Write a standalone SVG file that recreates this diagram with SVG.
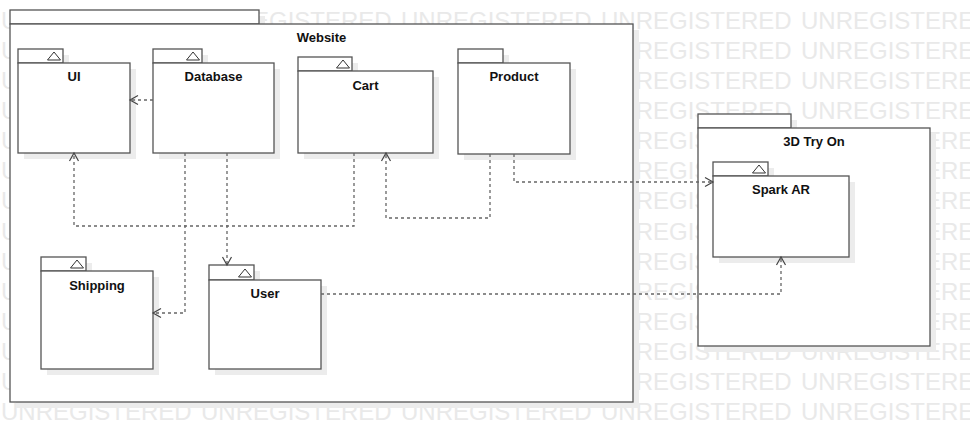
<svg xmlns="http://www.w3.org/2000/svg" xmlns:xlink="http://www.w3.org/1999/xlink" width="970" height="442" viewBox="0 0 970 442">
<style>
.wm{font-family:"Liberation Sans",Arial,sans-serif;font-size:24px;fill:#e9e9e9}
.box{fill:#ffffff;stroke:#555555;stroke-width:1.3}
.shadow{fill:#ececec;stroke:none}
.tri{fill:#ffffff;stroke:#333333;stroke-width:1}
.lbl{font-family:"Liberation Sans",Arial,sans-serif;font-size:13px;font-weight:bold;fill:#111111;text-anchor:middle}
.dep{fill:none;stroke:#666666;stroke-width:1.3;stroke-dasharray:3 3;marker-end:url(#arr)}
</style>
<defs>
<marker id="arr" viewBox="-10 -6 12 12" refX="0" refY="0" markerWidth="12" markerHeight="12" markerUnits="userSpaceOnUse" orient="auto">
<path d="M-8,-4.5 L0,0 L-8,4.5" fill="none" stroke="#444444" stroke-width="1.2"/>
</marker>
<g id="wmrow">
<text class="wm" x="1">UNREGISTERED</text>
<text class="wm" x="201">UNREGISTERED</text>
<text class="wm" x="401">UNREGISTERED</text>
<text class="wm" x="601">UNREGISTERED</text>
<text class="wm" x="801">UNREGISTERED</text>
</g>
</defs>
<rect width="970" height="442" fill="#ffffff"/>
<g id="watermark">
<use xlink:href="#wmrow" y="28.5"/>
<use xlink:href="#wmrow" y="58.6"/>
<use xlink:href="#wmrow" y="88.8"/>
<use xlink:href="#wmrow" y="118.9"/>
<use xlink:href="#wmrow" y="149.1"/>
<use xlink:href="#wmrow" y="179.2"/>
<use xlink:href="#wmrow" y="209.4"/>
<use xlink:href="#wmrow" y="239.5"/>
<use xlink:href="#wmrow" y="269.7"/>
<use xlink:href="#wmrow" y="299.8"/>
<use xlink:href="#wmrow" y="330.0"/>
<use xlink:href="#wmrow" y="360.1"/>
<use xlink:href="#wmrow" y="390.3"/>
<use xlink:href="#wmrow" y="420.4"/>
</g>

<g id="website">
<rect class="shadow" x="16" y="16" width="249" height="14"/>
<rect class="shadow" x="16" y="30" width="623" height="378"/>
<rect class="box" x="10" y="10" width="249" height="14"/>
<rect class="box" x="10" y="24" width="623" height="378"/>
<text class="lbl" x="321.5" y="42">Website</text>
</g>

<g id="try3d">
<rect class="shadow" x="704" y="120" width="93" height="14"/>
<rect class="shadow" x="704" y="134" width="232" height="218"/>
<rect class="box" x="698" y="114" width="93" height="14"/>
<rect class="box" x="698" y="128" width="232" height="218"/>
<text class="lbl" x="814" y="146">3D Try On</text>
</g>

<g id="ui">
<rect class="shadow" x="24" y="55" width="45" height="14"/>
<rect class="shadow" x="24" y="69" width="112" height="90"/>
<rect class="box" x="18" y="49" width="45" height="14"/>
<rect class="box" x="18" y="63" width="112" height="90"/>
<path class="tri" d="M47.5,60 L54,52 L60.5,60 Z"/>
<text class="lbl" x="74" y="81">UI</text>
</g>

<g id="database">
<rect class="shadow" x="159" y="55" width="49" height="14"/>
<rect class="shadow" x="159" y="69" width="121" height="90"/>
<rect class="box" x="153" y="49" width="49" height="14"/>
<rect class="box" x="153" y="63" width="121" height="90"/>
<path class="tri" d="M186.5,60 L193,52 L199.5,60 Z"/>
<text class="lbl" x="213.5" y="81">Database</text>
</g>

<g id="cart">
<rect class="shadow" x="304" y="63" width="54" height="14"/>
<rect class="shadow" x="304" y="77" width="135" height="82"/>
<rect class="box" x="298" y="57" width="54" height="14"/>
<rect class="box" x="298" y="71" width="135" height="82"/>
<path class="tri" d="M336.5,68 L343,60 L349.5,68 Z"/>
<text class="lbl" x="365.5" y="89.5">Cart</text>
</g>

<g id="product">
<rect class="shadow" x="464" y="55" width="45" height="14"/>
<rect class="shadow" x="464" y="69" width="112" height="91"/>
<rect class="box" x="458" y="49" width="45" height="14"/>
<rect class="box" x="458" y="63" width="112" height="91"/>
<text class="lbl" x="514" y="81">Product</text>
</g>

<g id="shipping">
<rect class="shadow" x="47" y="263" width="45" height="14"/>
<rect class="shadow" x="47" y="277" width="112" height="98"/>
<rect class="box" x="41" y="257" width="45" height="14"/>
<rect class="box" x="41" y="271" width="112" height="98"/>
<path class="tri" d="M70.5,268 L77,260 L83.5,268 Z"/>
<text class="lbl" x="97" y="290">Shipping</text>
</g>

<g id="user">
<rect class="shadow" x="215" y="271" width="45" height="15"/>
<rect class="shadow" x="215" y="286" width="112" height="89"/>
<rect class="box" x="209" y="265" width="45" height="15"/>
<rect class="box" x="209" y="280" width="112" height="89"/>
<path class="tri" d="M238.5,277 L245,269 L251.5,277 Z"/>
<text class="lbl" x="265" y="298">User</text>
</g>

<g id="sparkar">
<rect class="shadow" x="719" y="168" width="55" height="14"/>
<rect class="shadow" x="719" y="182" width="136" height="81"/>
<rect class="box" x="713" y="162" width="55" height="14"/>
<rect class="box" x="713" y="176" width="136" height="81"/>
<path class="tri" d="M752.5,173 L759,165 L765.5,173 Z"/>
<text class="lbl" x="781" y="194">Spark AR</text>
</g>

<g id="connectors">
<path class="dep" d="M153,100 L130,100"/>
<path class="dep" d="M354,153 L354,226 L74,226 L74,153"/>
<path class="dep" d="M185,153 L185,313 L153,313"/>
<path class="dep" d="M227,153 L227,265"/>
<path class="dep" d="M490,154 L490,218 L386,218 L386,153"/>
<path class="dep" d="M514,154 L514,182 L713,182"/>
<path class="dep" d="M321,294 L781,294 L781,257"/>
</g>
</svg>
